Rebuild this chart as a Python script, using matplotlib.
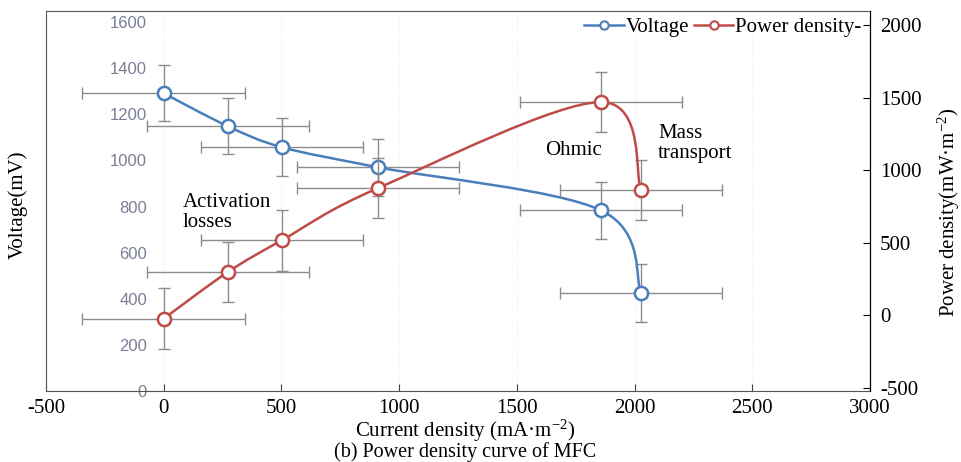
import matplotlib
matplotlib.use('Agg')
import matplotlib.pyplot as plt
from matplotlib.path import Path
from matplotlib.patches import PathPatch
from matplotlib.lines import Line2D

plt.rcParams['font.family'] = 'Liberation Serif'
plt.rcParams['mathtext.fontset'] = 'custom'
plt.rcParams['mathtext.rm'] = 'Liberation Serif'
plt.rcParams['mathtext.it'] = 'Liberation Serif:italic'
plt.rcParams['axes.unicode_minus'] = False

# data
current = [0, 273, 503, 911, 1858, 2027]
voltage = [1291, 1148, 1057, 970, 783, 426]
power = [-25, 297, 517, 876, 1469, 862]
current_err = [345, 345, 345, 345, 345, 345]
voltage_err = [122, 122, 125, 125, 125, 125]
power_err = [212, 210, 210, 208, 210, 210]

x_ticks = [-500, 0, 500, 1000, 1500, 2000, 2500, 3000]
v_ticks = [0, 200, 400, 600, 800, 1000, 1200, 1400, 1600]
p_ticks = [-500, 0, 500, 1000, 1500, 2000]

BLUE = '#4a7ebb'
RED = '#be4b48'
ERR = '#8c8c8c'


def smooth_path(xs, ys):
    # Excel style smoothed line: cubic Bezier through each point
    pts = list(zip(xs, ys))
    n = len(pts)
    verts = [pts[0]]
    codes = [Path.MOVETO]
    for i in range(n - 1):
        p0 = pts[max(i - 1, 0)]
        p1 = pts[i]
        p2 = pts[i + 1]
        p3 = pts[min(i + 2, n - 1)]
        c1 = (p1[0] + (p2[0] - p0[0]) / 6, p1[1] + (p2[1] - p0[1]) / 6)
        c2 = (p2[0] - (p3[0] - p1[0]) / 6, p2[1] - (p3[1] - p1[1]) / 6)
        verts += [c1, c2, p2]
        codes += [Path.CURVE4] * 3
    return Path(verts, codes)


fig = plt.figure(figsize=(9.62, 4.62), dpi=100)
ax = fig.add_axes([0.0478, 0.1537, 0.8566, 0.8225])
ax2 = ax.twinx()

ax.set_xlim(-500, 3000)
ax.set_ylim(0, 1648)
ax2.set_ylim(-524, 2097)

ax.set_xticks(x_ticks)
ax.tick_params(axis='x', direction='in', length=5, color='#404040', labelsize=15, pad=6)
ax.set_yticks(v_ticks)
ax.tick_params(axis='y', left=False, labelleft=False)
ax.grid(axis='x', color='#eeeeee', linestyle=':', linewidth=0.8)
ax.set_axisbelow(True)

for side in ['left', 'top', 'bottom']:
    ax.spines[side].set_color('#555555')
ax2.spines['right'].set_color('black')
for side in ['left', 'top', 'bottom']:
    ax2.spines[side].set_visible(False)

ax2.set_yticks(p_ticks)
ax2.tick_params(axis='y', direction='in', length=5, labelsize=15, pad=7)

# voltage labels sit inside the plot on the x = 0 line
sec = ax.secondary_yaxis(500 / 3500)
sec.set_yticks(v_ticks)
sec.spines['left'].set_visible(False)
sec.tick_params(axis='y', length=0, pad=12, labelsize=12, labelcolor='#7a7f96')
for lab in sec.get_yticklabels():
    lab.set_family('Liberation Sans')

# error bars
ax.errorbar(current, voltage, xerr=current_err, yerr=voltage_err, fmt='none',
            ecolor=ERR, elinewidth=1, capsize=4, capthick=1, zorder=2)
ax2.errorbar(current, power, xerr=current_err, yerr=power_err, fmt='none',
             ecolor=ERR, elinewidth=1, capsize=4, capthick=1, zorder=2)

# smoothed lines
ax.add_patch(PathPatch(smooth_path(current, voltage), fill=False, edgecolor=BLUE,
                       linewidth=1.8, zorder=3))
ax2.add_patch(PathPatch(smooth_path(current, power), fill=False, edgecolor=RED,
                        linewidth=1.8, zorder=3))
ax.plot(current, voltage, linestyle='none', marker='o', markersize=9.5,
        markerfacecolor='white', markeredgecolor=BLUE, markeredgewidth=1.8, zorder=4)
ax2.plot(current, power, linestyle='none', marker='o', markersize=9.5,
         markerfacecolor='white', markeredgecolor=RED, markeredgewidth=1.8, zorder=4)

# region annotations
ax.text(82, 774, 'Activation\nlosses', fontsize=15, ha='left', va='center', linespacing=1.1)
ax.text(1620, 1043, 'Ohmic', fontsize=15, ha='left', va='center')
ax.text(2100, 1074, 'Mass\ntransport', fontsize=15, ha='left', va='center', linespacing=1.1)

# legend
handles = [
    Line2D([], [], color=BLUE, linewidth=1.8, marker='o', markersize=6,
           markerfacecolor='white', markeredgewidth=1.5),
    Line2D([], [], color=RED, linewidth=1.8, marker='o', markersize=6,
           markerfacecolor='white', markeredgewidth=1.5),
]
ax2.legend(handles, ['Voltage', 'Power density-'], loc='upper right',
           bbox_to_anchor=(1.0, 1.005), ncol=2, frameon=False, fontsize=15,
           handlelength=1.9, handletextpad=0.1, columnspacing=0.2, borderaxespad=0)

ax.set_xlabel('Current density (mA·m$^{-2}$)', fontsize=15)
ax.xaxis.set_label_coords(0.508, -0.07)
ax.set_ylabel('Voltage(mV)', fontsize=15, va='center')
ax.yaxis.set_label_coords(-0.034, 0.49)
ax2.set_ylabel('Power density(mW·m$^{-2}$)', fontsize=15, va='center')
ax2.yaxis.set_label_coords(1.096, 0.47)

fig.text(0.483, 1 - 442 / 462, '(b) Power density curve of MFC', fontsize=14.5,
         ha='center', va='top')

fig.savefig('out.png', dpi=100)
